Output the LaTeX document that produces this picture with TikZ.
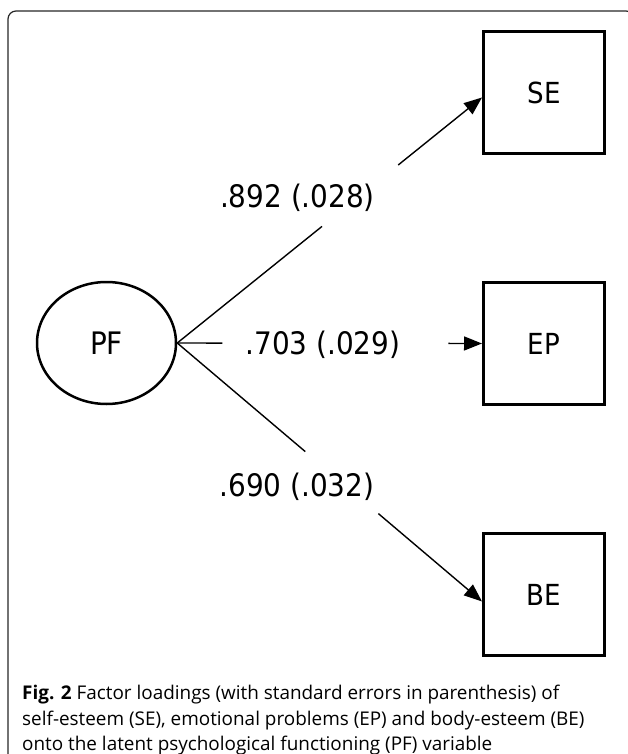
\documentclass[tikz,border=0pt]{standalone}
\usepackage{fontspec}
\setmainfont{Open Sans}
\newfontfamily\capfont{Open Sans}
\newfontfamily\diagfont{DejaVu Sans Condensed}
\newcommand{\capsize}{\fontsize{18.9pt}{26pt}\selectfont}
\usetikzlibrary{arrows.meta,calc,shapes.geometric}
\begin{document}
\begin{tikzpicture}[x=1pt,y=-1pt,
  boxnode/.style={draw,line width=3pt,minimum width=121pt,minimum height=122pt,inner sep=0pt,font=\diagfont\fontsize{29}{29}\selectfont},
  latent/.style={draw,ellipse,line width=2.5pt,minimum width=139pt,minimum height=122pt,inner sep=0pt,font=\diagfont\fontsize{31}{31}\selectfont},
  loading/.style={font=\diagfont\fontsize{31}{31}\selectfont,inner sep=0pt},
  conn/.style={line width=1.4pt},
  arr/.style={line width=1.4pt,-{Triangle[length=18pt,width=14pt]}},
  capline/.style={anchor=base west,inner sep=0pt}]
\useasboundingbox (0,0) rectangle (627,754);
\draw[rounded corners=8pt,line width=1.2pt,black!85] (8,11) rectangle (634,762);
\node[latent] (PF) at (106.5,343) {PF};
\node[boxnode] (SE) at (544,92.5) {SE};
\node[boxnode] (EP) at (544,343.5) {EP};
\node[boxnode] (BE) at (544,594.5) {BE};
\coordinate (SEt) at ($(SE.west)+(0,5)$);
\coordinate (BEt) at ($(BE.west)+(0,7)$);
\path (PF.east) -- coordinate[pos=0.475] (s1) coordinate[pos=0.725] (s2) (SEt);
\path (PF.east) -- coordinate[pos=0.148] (e1) coordinate[pos=0.89] (e2) (EP.west);
\path (PF.east) -- coordinate[pos=0.42] (b1) coordinate[pos=0.66] (b2) (BEt);
\draw[conn] (PF.east) -- (s1);
\draw[arr] (s2) -- (SEt);
\draw[conn] (PF.east) -- (e1);
\draw[arr] (e2) -- (EP.west);
\draw[conn] (PF.east) -- (b1);
\draw[arr] (b2) -- (BEt);
\node[loading] (l1) at (297.5,198) {.892 (.028)};
\node[loading] (l2) at (323,345) {.703 (.029)};
\node[loading] (l3) at (297,487) {.690 (.032)};
\node[capline] (c1) at (22,699) {\capfont\capsize\textbf{Fig. 2} Factor loadings (with standard errors in parenthesis) of};
\node[capline] (c2) at (22,725) {\capfont\capsize self-esteem (SE), emotional problems (EP) and body-esteem (BE)};
\node[capline] (c3) at (22,750) {\capfont\capsize onto the latent psychological functioning (PF) variable};
\end{tikzpicture}
\end{document}
